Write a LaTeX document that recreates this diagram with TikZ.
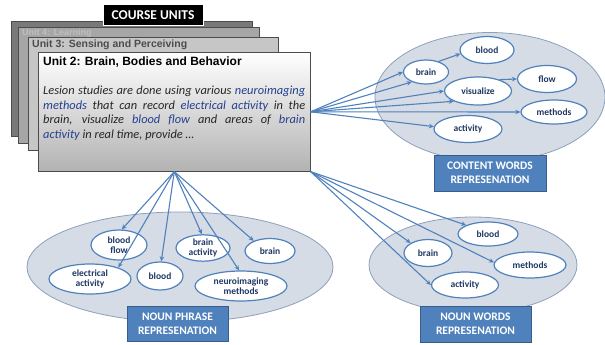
\documentclass[tikz,border=0pt]{standalone}
\usepackage{fontspec}
\setmainfont{Carlito}
\newfontfamily\headfont{Liberation Sans}
\usepackage{xcolor}
\usetikzlibrary{positioning,shapes.geometric,arrows.meta}

\definecolor{wordblue}{RGB}{79,129,189}
\definecolor{boxline}{RGB}{56,93,138}
\definecolor{wordtext}{RGB}{31,56,100}
\definecolor{cloudfill}{RGB}{214,220,229}
\definecolor{cloudline}{RGB}{140,160,185}
\definecolor{keyblue}{RGB}{36,64,142}

\newcommand{\kw}[1]{\textcolor{keyblue}{#1}}

\begin{document}
\begin{tikzpicture}[x=1pt, y=-1pt,
    card/.style={rectangle, draw=gray!60!black, line width=0.6pt, anchor=north west, inner sep=0pt},
    cloud/.style={ellipse, draw=cloudline, fill=cloudfill, line width=0.8pt, inner sep=0pt},
    word/.style={ellipse, draw=wordblue, fill=white, line width=1.2pt, inner sep=0pt, text=wordtext, align=center, font=\bfseries\fontsize{9.5}{10.5}\selectfont},
    repbox/.style={rectangle, draw=boxline, fill=wordblue, line width=1pt, text=white, align=center, inner sep=0pt, font=\bfseries\fontsize{11.5}{14}\selectfont},
    arrow/.style={-{Stealth[length=5pt,width=4.5pt]}, draw=wordblue, line width=1.1pt}]

    \useasboundingbox (0,0) rectangle (605,345);

    % stack of unit cards
    \node[card, fill=gray!95!black, minimum width=241, minimum height=115] (unitback) at (11,21) {};
    \node[card, fill=gray!70, minimum width=241, minimum height=116] (unit4) at (18,27) {};
    \node[card, fill=gray!45, minimum width=250, minimum height=113] (unit3) at (28,37) {};
    \node[card, top color=white, bottom color=gray!60, minimum width=272, minimum height=119] (unit2) at (38,52) {};
    \node[anchor=west, inner sep=0pt, text=gray!50, font=\headfont\bfseries\fontsize{9}{10}\selectfont] (unit4title) at (22,33) {Unit 4: Learning};
    \node[anchor=west, inner sep=0pt, text=black!70, font=\headfont\bfseries\fontsize{10.5}{12}\selectfont] (unit3title) at (32,45) {Unit 3: Sensing and Perceiving};
    \node[anchor=west, inner sep=0pt, text=black, font=\headfont\bfseries\fontsize{12}{13}\selectfont] (unit2title) at (43,62) {Unit 2: Brain, Bodies and Behavior};
    \node[anchor=north west, inner sep=0pt, text width=262pt, align=justify, text=black!85, font=\itshape\fontsize{12.4}{14.4}\selectfont] (unit2text) at (43,86)
        {Lesion studies are done using various \kw{neuroimaging}\linebreak
         \kw{methods} that can record \kw{electrical activity} in the\linebreak
         brain, visualize \kw{blood flow} and areas of \kw{brain}\linebreak
         \kw{activity} in real time, provide …};
    \node[rectangle, fill=black, draw=white, line width=0.8pt, text=white, minimum width=100, minimum height=21, inner sep=0pt, font=\bfseries\fontsize{13.5}{15}\selectfont] (courseunits) at (153,15) {COURSE UNITS};

    % representation clouds
    \node[cloud, minimum width=230, minimum height=129] (contentcloud) at (490,97) {};
    \node[cloud, minimum width=306, minimum height=110] (phrasecloud) at (180,267) {};
    \node[cloud, minimum width=208, minimum height=96] (nouncloud) at (473,265) {};

    % content words
    \node[word, minimum width=45, minimum height=24] (cbrain) at (426,72) {brain};
    \node[word, minimum width=54, minimum height=27] (cblood) at (487,50) {blood};
    \node[word, minimum width=67, minimum height=28] (cvisual) at (478,91) {visualize};
    \node[word, minimum width=59, minimum height=27] (cflow) at (547,79) {flow};
    \node[word, minimum width=66, minimum height=24] (cmethods) at (554,112) {methods};
    \node[word, minimum width=68, minimum height=27] (cactivity) at (468,129) {activity};

    \draw[arrow] (unit2.east) -- (cbrain.180);
    \draw[arrow] (unit2.east) -- (cbrain.215);
    \draw[arrow] (unit2.east) -- (cvisual.180);
    \draw[arrow] (unit2.east) -- (cvisual.203);
    \draw[arrow] (unit2.east) -- (cmethods.180);
    \draw[arrow] (unit2.east) -- (cactivity.176);
    \draw[arrow] (cbrain.40) -- (cblood.188);
    \draw[arrow] (cvisual.28) -- (cflow.180);

    % noun phrases
    \node[word, minimum width=56, minimum height=30] (pflow) at (119,245) {blood\\flow};
    \node[word, minimum width=82, minimum height=30] (pelectric) at (90,279) {electrical\\activity};
    \node[word, minimum width=46, minimum height=28] (pblood) at (160,276) {blood};
    \node[word, minimum width=54, minimum height=26] (pactivity) at (203,248) {brain\\activity};
    \node[word, minimum width=50, minimum height=25] (pbrain) at (270,251) {brain};
    \node[word, minimum width=92, minimum height=30] (pmethods) at (241,286) {neuroimaging\\methods};

    \draw[arrow] (unit2.south) -- (pflow.80);
    \draw[arrow] (unit2.south) -- (pelectric.22);
    \draw[arrow] (unit2.south) -- (pblood.85);
    \draw[arrow] (unit2.south) -- (pactivity.95);
    \draw[arrow] (unit2.south) -- (pmethods.97);
    \draw[arrow] (unit2.south) -- (pbrain.148);

    % noun words
    \node[word, minimum width=60, minimum height=24] (wblood) at (488,234) {blood};
    \node[word, minimum width=48, minimum height=27] (wbrain) at (428,253) {brain};
    \node[word, minimum width=72, minimum height=26] (wmethods) at (530,265) {methods};
    \node[word, minimum width=67, minimum height=26] (wactivity) at (465,285) {activity};

    \draw[arrow] (unit2.south east) -- (wblood.158);
    \draw[arrow] (unit2.south east) -- (wbrain.150);
    \draw[arrow] (unit2.south east) -- (wmethods.176);
    \draw[arrow] (unit2.south east) -- (wactivity.180);

    % representation labels
    \node[repbox, minimum width=112, minimum height=36] (contentlabel) at (490,173) {CONTENT WORDS\\REPRESENATION};
    \node[repbox, minimum width=101, minimum height=35] (phraselabel) at (177.5,323.5) {NOUN PHRASE\\REPRESENATION};
    \node[repbox, minimum width=111, minimum height=36] (nounlabel) at (475.5,324) {NOUN WORDS\\REPRESENATION};
\end{tikzpicture}
\end{document}
